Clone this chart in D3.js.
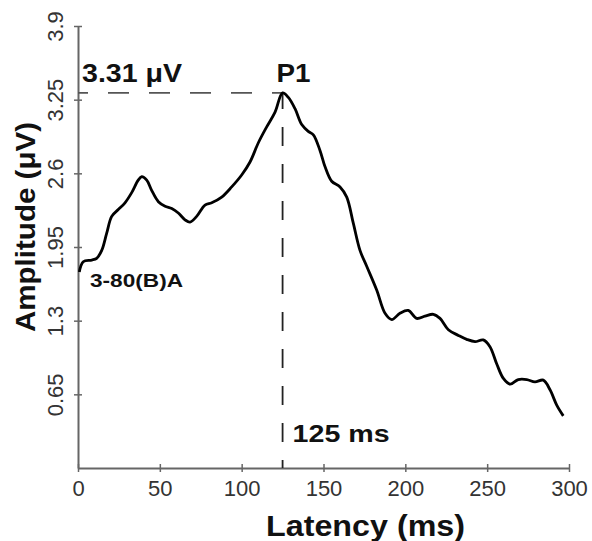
<!DOCTYPE html>
<html>
<head>
<meta charset="utf-8">
<script src="https://cdn.jsdelivr.net/npm/d3@7"></script>
<style>
  body { margin: 0; background: #fff; }
  text { font-family: "Liberation Sans", Arial, sans-serif; }
</style>
</head>
<body>
<svg id="chart" width="592" height="541"></svg>
<script>
// ERP waveform: latency (ms) and amplitude (uV)
const latency = [0.8, 3.2, 8.4, 11.4, 14.5, 17.5, 20.6, 24.6, 28.7, 32.8, 36.8, 38.9, 42.0, 45.0,
  49.1, 53.2, 57.3, 61.3, 65.4, 68.4, 72.5, 77.6, 81.7, 87.8, 93.9, 100.0, 105.1, 110.2, 115.3,
  120.4, 125.0, 128.5, 132.6, 136.7, 140.7, 143.8, 147.9, 150.9, 155.0, 160.1, 164.2, 168.2,
  172.3, 176.4, 182.5, 187.6, 191.7, 196.7, 201.8, 206.9, 212.0, 217.1, 221.2, 226.3, 232.4,
  237.5, 242.6, 247.6, 251.7, 255.8, 259.9, 264.0, 269.0, 274.2, 279.2, 284.3, 288.4, 292.5, 296.5]
const amplitude = [1.73, 1.82, 1.835, 1.85, 1.92, 2.07, 2.22, 2.28, 2.34, 2.43, 2.54, 2.57, 2.54, 2.45,
  2.35, 2.31, 2.29, 2.25, 2.19, 2.17, 2.22, 2.32, 2.34, 2.39, 2.48, 2.585, 2.70, 2.87, 3.01,
  3.14, 3.31, 3.27, 3.17, 3.03, 2.97, 2.94, 2.80, 2.66, 2.53, 2.48, 2.39, 2.16,
  1.92, 1.78, 1.57, 1.365, 1.31, 1.365, 1.39, 1.32, 1.34, 1.356, 1.32, 1.22, 1.17,
  1.135, 1.115, 1.13, 1.07, 0.92, 0.79, 0.74, 0.78, 0.78, 0.76, 0.775, 0.69, 0.555, 0.46]

const xTicks = [0, 50, 100, 150, 200, 250, 300]
const yTicks = [0.65, 1.3, 1.95, 2.6, 3.25, 3.9]
const yTickLabels = ['0.65', '1.3', '1.95', '2.6', '3.25', '3.9']

const peak = {latency: 125, amplitude: 3.31, name: 'P1'}
const peakAmpLabel = '3.31 μV'
const peakLatLabel = '125 ms'
const subjectLabel = '3-80(B)A'

const svg = d3.select('#chart')

const x = d3.scaleLinear().domain([0, 300]).range([78, 569])
const y = d3.scaleLinear().domain([0, 3.9]).range([468, 26])

const axisColor = '#666'

// x axis
const xAxis = svg.append('g')
  .attr('transform', `translate(0,${y(0)})`)
  .call(d3.axisBottom(x).tickValues(xTicks).tickSizeOuter(0).tickSizeInner(4).tickPadding(8))
xAxis.select('.domain').attr('stroke', axisColor).attr('stroke-width', 2)
xAxis.selectAll('.tick line').attr('y1', -4).attr('stroke', axisColor).attr('stroke-width', 1.5)
xAxis.selectAll('.tick text')
  .attr('font-size', 22).attr('fill', '#333')
  .style('font-family', '"Liberation Sans", Arial, sans-serif')

// y axis
const yAxis = svg.append('g')
  .attr('transform', `translate(${x(0)},0)`)
  .call(d3.axisLeft(y).tickValues(yTicks).tickFormat((d, i) => yTickLabels[i]).tickSizeOuter(0).tickSizeInner(4))
yAxis.select('.domain').attr('stroke', axisColor).attr('stroke-width', 2)
yAxis.selectAll('.tick line').attr('x1', 4).attr('stroke', axisColor).attr('stroke-width', 1.5)
yAxis.selectAll('.tick text')
  .attr('x', null).attr('dy', null)
  .attr('transform', 'translate(-15,0) rotate(-90)')
  .attr('text-anchor', 'middle')
  .attr('font-size', 22).attr('fill', '#333')
  .style('font-family', '"Liberation Sans", Arial, sans-serif')

// dashed guides to the peak
svg.append('line')
  .attr('x1', x(0)).attr('x2', x(peak.latency))
  .attr('y1', y(peak.amplitude)).attr('y2', y(peak.amplitude))
  .attr('stroke', '#555').attr('stroke-width', 1.8)
  .attr('stroke-dasharray', '21,20').attr('stroke-dashoffset', 11)

svg.append('line')
  .attr('x1', x(peak.latency)).attr('x2', x(peak.latency))
  .attr('y1', y(0)).attr('y2', y(peak.amplitude))
  .attr('stroke', '#222').attr('stroke-width', 1.8)
  .attr('stroke-dasharray', '19,18').attr('stroke-dashoffset', 11)

// waveform
const line = d3.line()
  .x((d, i) => x(latency[i]))
  .y((d, i) => y(amplitude[i]))
  .curve(d3.curveCatmullRom.alpha(0.5))

svg.append('path')
  .datum(latency)
  .attr('d', line)
  .attr('fill', 'none')
  .attr('stroke', '#000')
  .attr('stroke-width', 2.8)
  .attr('stroke-linejoin', 'round')

// annotations
const bold = (txt, px, py, size, len) => svg.append('text')
  .attr('x', px).attr('y', py)
  .attr('font-size', size).attr('font-weight', 'bold').attr('fill', '#111')
  .attr('textLength', len).attr('lengthAdjust', 'spacingAndGlyphs')
  .text(txt)

bold(peakAmpLabel, x(0) + 4, y(peak.amplitude) - 11, 25, 100)
bold(peak.name, x(peak.latency) - 6, y(peak.amplitude) - 11, 26, 34)
bold(peakLatLabel, x(peak.latency) + 10, 442, 24, 97)
bold(subjectLabel, 90, 287, 18, 93)

// axis titles
svg.append('text')
  .attr('x', 266).attr('y', 536)
  .attr('font-size', 29).attr('font-weight', 'bold').attr('fill', '#111')
  .attr('textLength', 199).attr('lengthAdjust', 'spacingAndGlyphs')
  .text('Latency (ms)')

svg.append('text')
  .attr('transform', 'translate(35,332) rotate(-90)')
  .attr('font-size', 28).attr('font-weight', 'bold').attr('fill', '#111')
  .attr('textLength', 210).attr('lengthAdjust', 'spacingAndGlyphs')
  .text('Amplitude (μV)')
</script>
</body>
</html>
